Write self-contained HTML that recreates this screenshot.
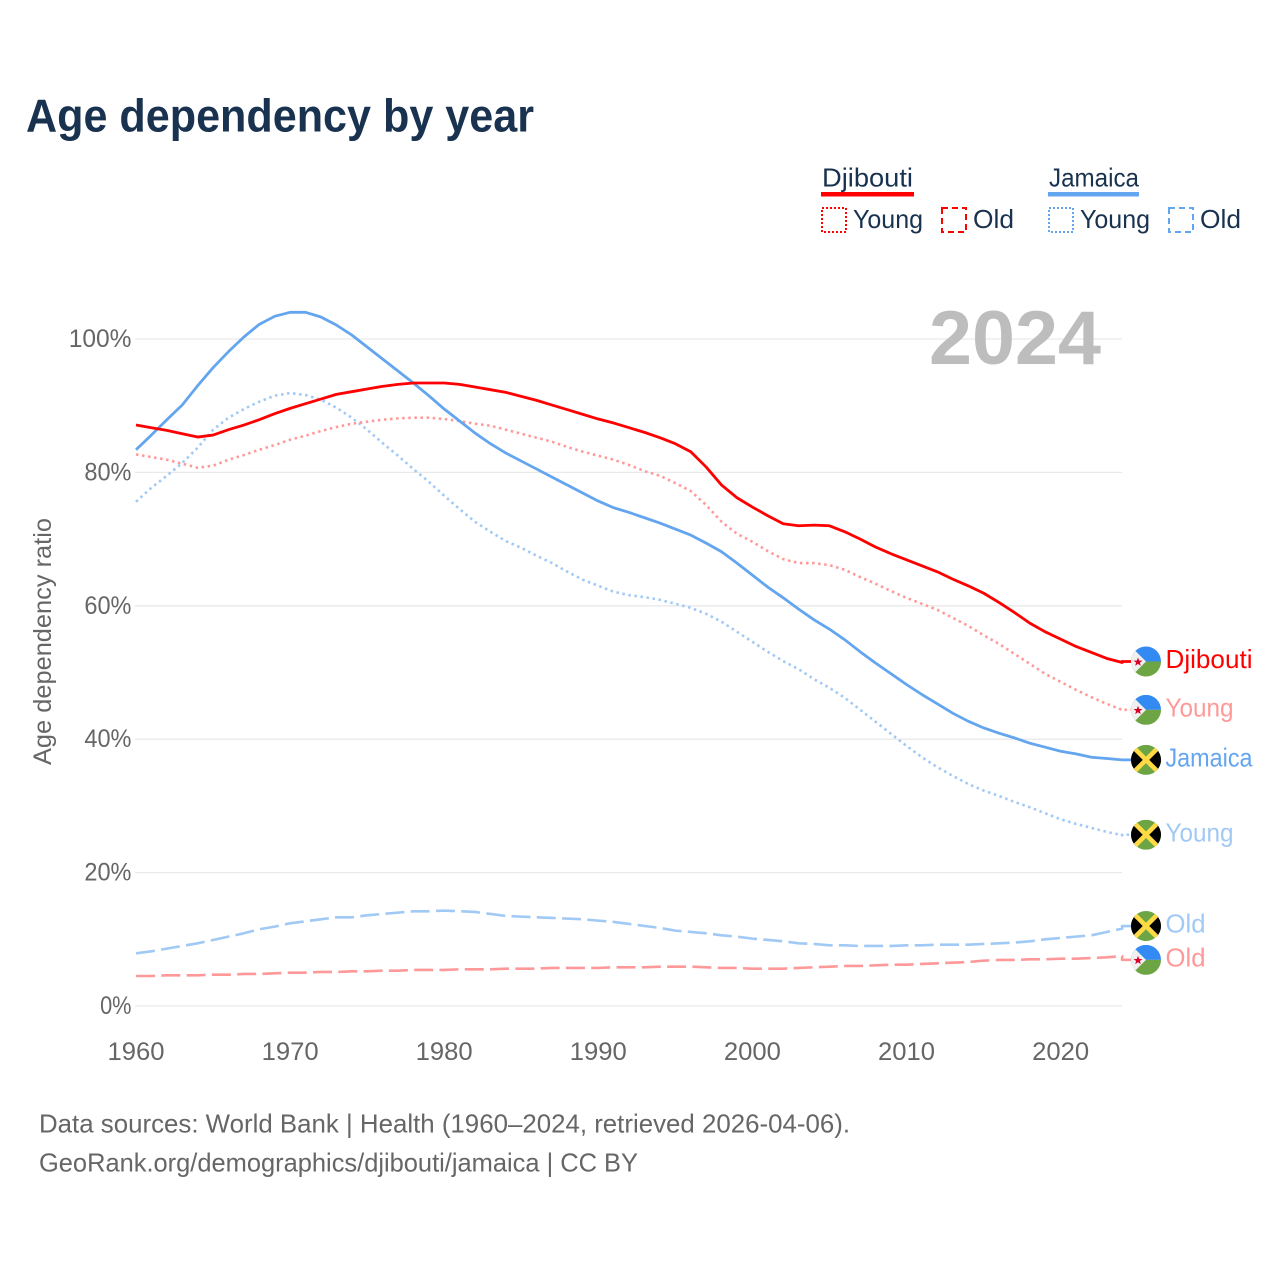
<!DOCTYPE html>
<html>
<head>
<meta charset="utf-8">
<title>Age dependency by year</title>
<style>
html,body{margin:0;padding:0;background:#fff;}
svg{display:block;font-family:"Liberation Sans",sans-serif;}
</style>
</head>
<body>
<svg id="chart" xmlns="http://www.w3.org/2000/svg" width="1280" height="1280" viewBox="0 0 1280 1280">
  <defs>
    <clipPath id="flag-clip"><circle cx="0" cy="0" r="15"/></clipPath>
    <g id="flag-djibouti" clip-path="url(#flag-clip)">
      <rect x="-15" y="-15" width="30" height="15" fill="#338af3"/>
      <rect x="-15" y="0" width="30" height="15" fill="#6da544"/>
      <path d="M-15,-15 L0,0 L-15,15 Z" fill="#f0f0f0"/>
      <path d="M-8,-4 L-6.8,-0.9 L-3.5,-0.9 L-6.1,1.1 L-5.2,4.3 L-8,2.4 L-10.8,4.3 L-9.9,1.1 L-12.5,-0.9 L-9.2,-0.9 Z" fill="#d80027"/>
    </g>
    <g id="flag-jamaica" clip-path="url(#flag-clip)">
      <rect x="-15" y="-15" width="30" height="30" fill="#6da544"/>
      <path d="M-15,-15 L0,0 L-15,15 Z M15,-15 L0,0 L15,15 Z" fill="#000"/>
      <path d="M-13,-13 L13,13 M13,-13 L-13,13" stroke="#ffda44" stroke-width="4.6" fill="none"/>
    </g>
  </defs>

  <text x="26" y="131.5" font-size="46" font-weight="bold" fill="#18324f" textLength="508" lengthAdjust="spacingAndGlyphs">Age dependency by year</text>

  <g font-size="26" fill="#18324f">
    <g>
      <text x="822" y="186.5" textLength="91" lengthAdjust="spacingAndGlyphs">Djibouti</text>
      <rect x="821" y="192" width="93" height="4.5" fill="#ff0000"/>
      <rect x="822" y="208" width="24" height="24" fill="none" stroke="#ff0000" stroke-width="2" stroke-dasharray="2 2"/>
      <text x="853" y="228" textLength="70" lengthAdjust="spacingAndGlyphs">Young</text>
      <rect x="942" y="208" width="24" height="24" fill="none" stroke="#ff0000" stroke-width="2" stroke-dasharray="6 4"/>
      <text x="973" y="228" textLength="41" lengthAdjust="spacingAndGlyphs">Old</text>
    </g>
    <g>
      <text x="1049" y="186.5" textLength="90" lengthAdjust="spacingAndGlyphs">Jamaica</text>
      <rect x="1048" y="192" width="91" height="4.5" fill="#63a5ee"/>
      <rect x="1049" y="208" width="24" height="24" fill="none" stroke="#63a5ee" stroke-width="2" stroke-dasharray="2 2"/>
      <text x="1080" y="228" textLength="70" lengthAdjust="spacingAndGlyphs">Young</text>
      <rect x="1169" y="208" width="24" height="24" fill="none" stroke="#63a5ee" stroke-width="2" stroke-dasharray="6 4"/>
      <text x="1200" y="228" textLength="41" lengthAdjust="spacingAndGlyphs">Old</text>
    </g>
  </g>

  <g id="grid"></g>
  <text x="929" y="364" font-size="76" font-weight="bold" fill="#bdbdbd" textLength="172" lengthAdjust="spacingAndGlyphs">2024</text>
  <g id="yticks" font-size="25" fill="#666"></g>
  <g id="xticks" font-size="25" fill="#666"></g>
  <text transform="translate(51,765) rotate(-90)" font-size="25" fill="#666" textLength="247" lengthAdjust="spacingAndGlyphs">Age dependency ratio</text>
  <g id="series"></g>
  <g id="endlabels" font-size="26"></g>

  <text x="39" y="1132.5" font-size="26" fill="#666" textLength="811" lengthAdjust="spacingAndGlyphs">Data sources: World Bank | Health (1960–2024, retrieved 2026-04-06).</text>
  <text x="39" y="1171.5" font-size="26" fill="#666" textLength="599" lengthAdjust="spacingAndGlyphs">GeoRank.org/demographics/djibouti/jamaica | CC BY</text>
</svg>

<script>
const startYear = 1960;
const xTickYears = [1960, 1970, 1980, 1990, 2000, 2010, 2020];
const yTickValues = [0, 20, 40, 60, 80, 100];

const djiboutiTotal = [
  87.1,86.7,86.3,85.8,85.3,85.6,86.4,87.1,87.9,88.8,
  89.6,90.3,91.0,91.7,92.1,92.5,92.9,93.2,93.4,93.4,
  93.4,93.2,92.8,92.4,92.0,91.4,90.8,90.1,89.4,88.7,
  88.0,87.4,86.7,86.0,85.2,84.3,83.1,80.8,78.1,76.2,
  74.8,73.5,72.3,72.0,72.1,72.0,71.1,70.0,68.8,67.8,
  66.9,66.0,65.1,64.0,63.0,61.9,60.5,59.0,57.4,56.1,
  55.0,53.9,53.0,52.1,51.5
];
const djiboutiYoung = [
  82.7,82.3,81.9,81.3,80.7,81.0,81.9,82.6,83.4,84.1,
  84.9,85.5,86.2,86.8,87.3,87.6,87.9,88.1,88.2,88.2,
  88.0,87.7,87.3,87.0,86.4,85.8,85.2,84.6,83.8,83.1,
  82.5,81.9,81.1,80.2,79.5,78.4,77.2,75.1,72.6,70.8,
  69.6,68.2,67.0,66.4,66.4,66.1,65.4,64.3,63.3,62.2,
  61.2,60.3,59.4,58.2,57.0,55.6,54.3,52.8,51.3,49.8,
  48.6,47.4,46.3,45.3,44.4
];
const djiboutiOld = [
  4.5,4.5,4.6,4.6,4.6,4.7,4.7,4.8,4.8,4.9,
  5.0,5.0,5.1,5.1,5.2,5.2,5.3,5.3,5.4,5.4,
  5.4,5.5,5.5,5.5,5.6,5.6,5.6,5.7,5.7,5.7,
  5.7,5.8,5.8,5.8,5.9,5.9,5.9,5.8,5.7,5.7,
  5.6,5.6,5.6,5.7,5.8,5.9,6.0,6.0,6.1,6.2,
  6.2,6.3,6.4,6.5,6.6,6.8,6.9,6.9,7.0,7.0,
  7.1,7.1,7.2,7.3,7.5
];
const jamaicaTotal = [
  83.4,85.6,87.9,90.1,93.0,95.7,98.1,100.3,102.2,103.4,
  104.0,104.0,103.3,102.1,100.6,98.8,97.0,95.2,93.4,91.5,
  89.5,87.7,85.9,84.3,82.9,81.7,80.5,79.3,78.1,76.9,
  75.7,74.7,74.0,73.2,72.4,71.5,70.6,69.4,68.1,66.4,
  64.6,62.8,61.2,59.5,57.9,56.5,54.9,53.1,51.4,49.8,
  48.2,46.7,45.3,43.9,42.7,41.7,40.9,40.2,39.4,38.8,
  38.2,37.8,37.3,37.1,36.9
];
const jamaicaYoung = [
  75.6,77.7,79.5,81.4,83.7,86.4,88.2,89.5,90.6,91.5,
  91.9,91.6,90.9,89.7,88.2,86.4,84.4,82.5,80.5,78.6,
  76.5,74.5,72.6,71.1,69.7,68.7,67.5,66.4,65.1,63.9,
  63.0,62.1,61.6,61.3,60.9,60.3,59.7,58.8,57.6,56.1,
  54.6,53.1,51.7,50.5,49.0,47.7,46.2,44.4,42.6,40.8,
  39.0,37.3,35.8,34.5,33.3,32.3,31.5,30.6,29.8,28.9,
  28.0,27.3,26.7,26.1,25.6
];
const jamaicaOld = [
  7.9,8.2,8.6,9.0,9.4,9.9,10.4,10.9,11.5,11.9,
  12.4,12.7,13.0,13.3,13.3,13.6,13.8,14.0,14.2,14.2,
  14.3,14.2,14.1,13.8,13.5,13.4,13.3,13.2,13.1,13.0,
  12.8,12.6,12.3,12.0,11.7,11.3,11.1,10.9,10.6,10.4,
  10.1,9.9,9.7,9.4,9.3,9.1,9.1,9.0,9.0,9.0,
  9.1,9.1,9.2,9.2,9.2,9.3,9.4,9.5,9.7,10.0,
  10.2,10.4,10.6,11.1,11.6
];

const NS = 'http://www.w3.org/2000/svg';
const xScale = function (year) { return 136 + (year - 1960) * 15.41; };
const yScale = function (v) { return 1006 - v * 6.67; };
const RED = '#ff0000', BLUE = '#63a5ee', RED_L = '#ff9999', BLUE_L = '#a1c9f5';

function make(tag, parentId, attrs, text) {
  const el = document.createElementNS(NS, tag);
  for (const k in attrs) el.setAttribute(k, attrs[k]);
  if (text !== undefined) el.textContent = text;
  document.getElementById(parentId).appendChild(el);
  return el;
}

yTickValues.forEach(function (v) {
  const line = make('line', 'grid', {x1: 135, x2: 1122, y1: yScale(v), y2: yScale(v), stroke: '#e9e9e9', 'stroke-width': 1.3});
  
  
  const label = v + '%';
  const width = label.length * 15.7;
  const t = make('text', 'yticks', {x: 131.5 - width, y: yScale(v) + 8, textLength: width, lengthAdjust: 'spacingAndGlyphs'}, label);
  
  
});

xTickYears.forEach(function (yr) {
  const t = make('text', 'xticks', {x: xScale(yr) - 28.5, y: 1060, textLength: 57, lengthAdjust: 'spacingAndGlyphs'}, String(yr));
  
  
});

/* draw order and label placement; labelShift nudges the flag away from the line end */
const seriesList = [
  {id: 'djibouti-old', values: djiboutiOld, color: RED_L, dash: '19 6.3', w: 2.6, flag: 'flag-djibouti', label: 'Old', lw: 40, labelShift: 3.9},
  {id: 'jamaica-old', values: jamaicaOld, color: BLUE_L, dash: '19 6.3', w: 2.6, flag: 'flag-jamaica', label: 'Old', lw: 40, labelShift: -2.6},
  {id: 'jamaica-young', values: jamaicaYoung, color: BLUE_L, dash: '2.5 3.6', w: 2.6, flag: 'flag-jamaica', label: 'Young', lw: 68, labelShift: -0.5},
  {id: 'djibouti-young', values: djiboutiYoung, color: RED_L, dash: '2.5 3.6', w: 2.6, flag: 'flag-djibouti', label: 'Young', lw: 68, labelShift: 0},
  {id: 'jamaica-total', values: jamaicaTotal, color: BLUE, dash: '', w: 2.8, flag: 'flag-jamaica', label: 'Jamaica', lw: 87, labelShift: 0},
  {id: 'djibouti-total', values: djiboutiTotal, color: RED, dash: '', w: 2.8, flag: 'flag-djibouti', label: 'Djibouti', lw: 87, labelShift: -1}
];

seriesList.forEach(function (s) {
  const pts = s.values.map(function (v, i) { return xScale(startYear + i).toFixed(2) + ',' + yScale(v).toFixed(2); });
  const lastY = yScale(s.values[s.values.length - 1]);
  const flagY = lastY + s.labelShift;
  pts.push('1122,' + flagY.toFixed(2));
  pts.push('1132,' + flagY.toFixed(2));
  const attrs = {points: pts.join(' '), fill: 'none', stroke: s.color, 'stroke-width': s.w, 'stroke-linejoin': 'round'};
  if (s.dash) attrs['stroke-dasharray'] = s.dash;
  const line = make('polyline', 'series', attrs);
  
  

  const flag = make('use', 'endlabels', {href: '#' + s.flag, transform: 'translate(1146,' + flagY.toFixed(2) + ')'});
  
  
  const t = make('text', 'endlabels', {x: 1165.5, y: (flagY + 6.5).toFixed(2), fill: s.color, textLength: s.lw, lengthAdjust: 'spacingAndGlyphs'}, s.label);
  
  
});
</script>
</body>
</html>
